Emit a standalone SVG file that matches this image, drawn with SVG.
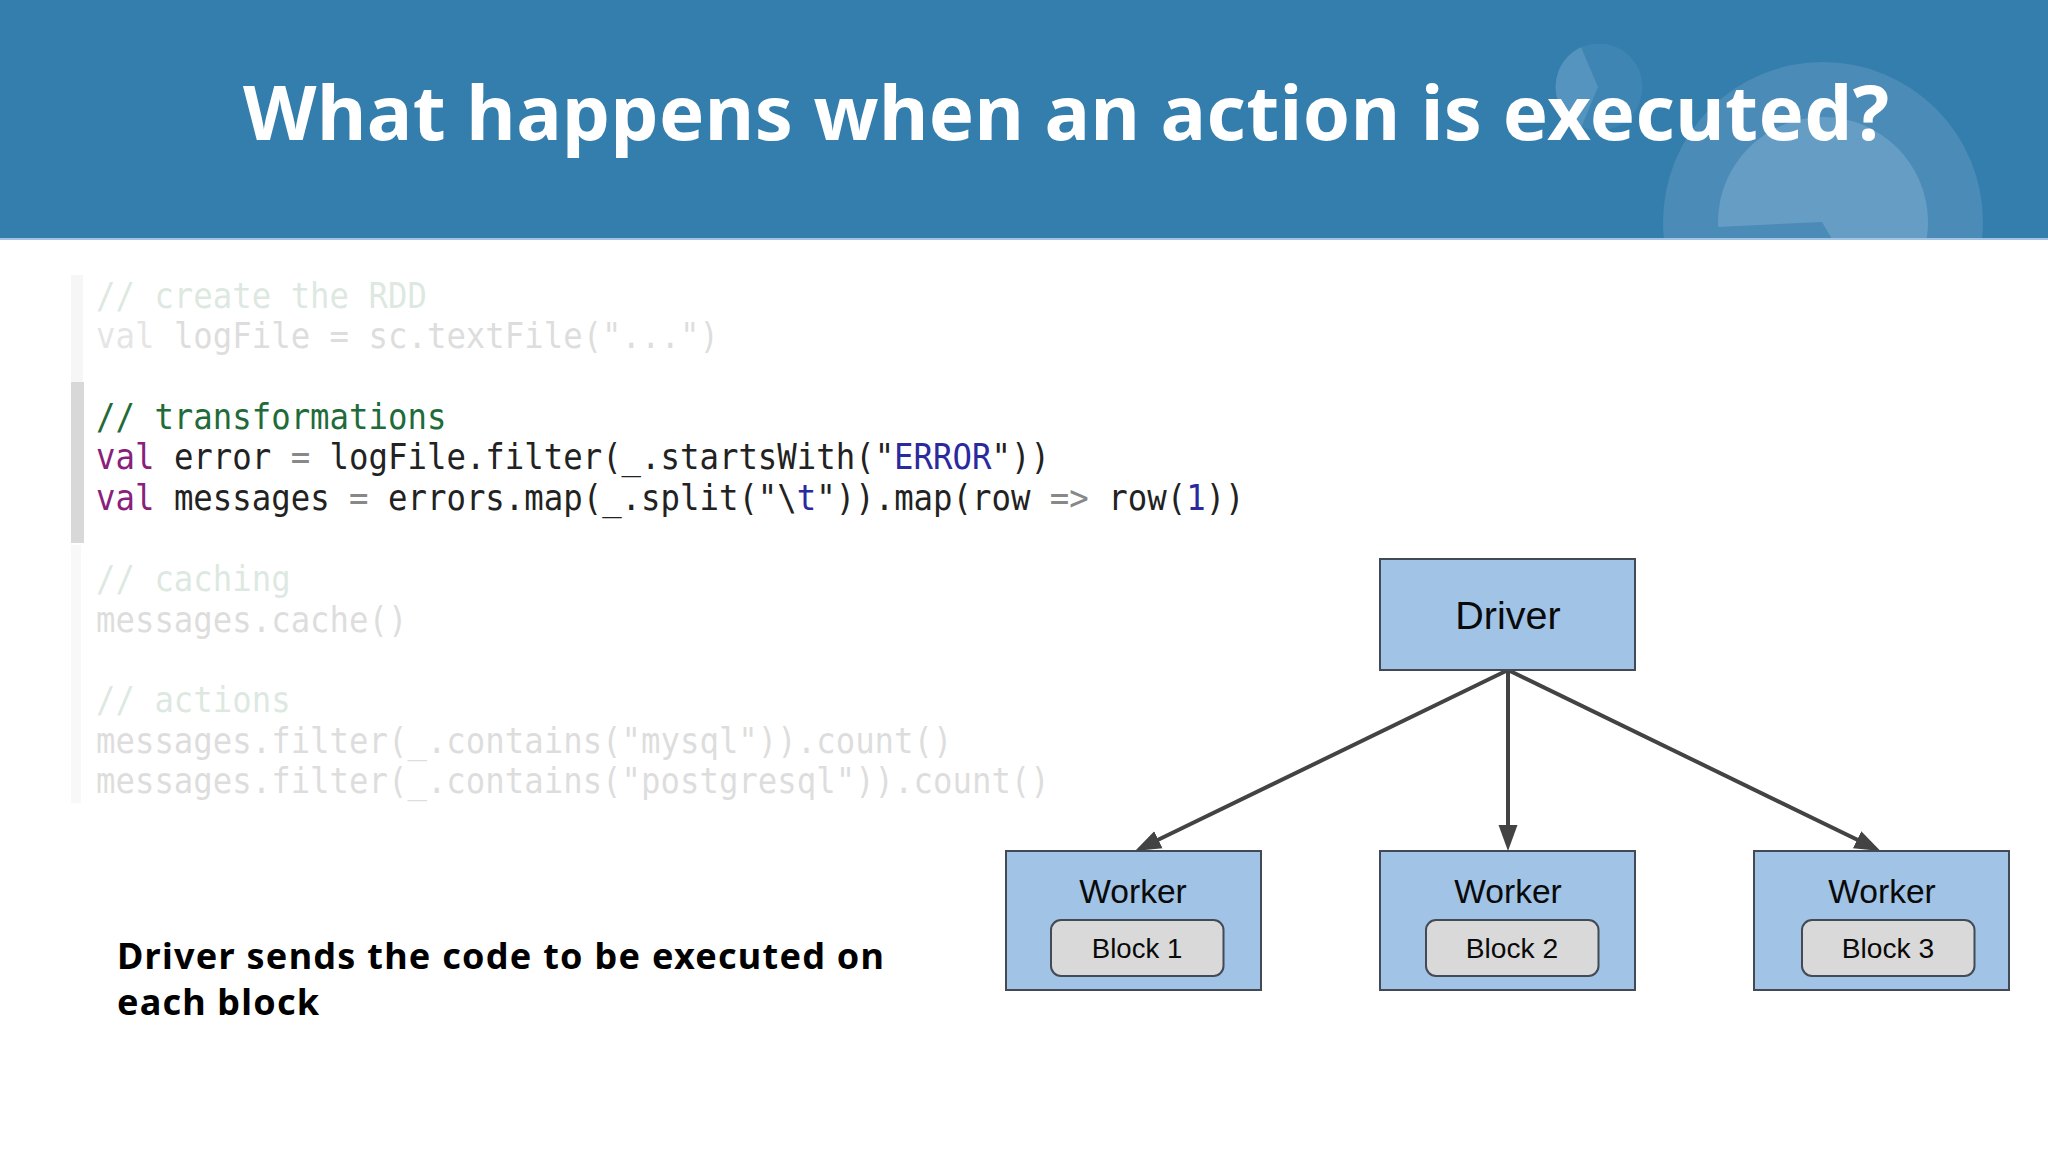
<svg xmlns="http://www.w3.org/2000/svg" width="2048" height="1152" viewBox="0 0 2048 1152">
<style>
.title{font-family:"Noto Sans","Open Sans",sans-serif;font-weight:700;font-size:76px;fill:#fff}
.code{font-family:"DejaVu Sans Mono","Liberation Mono",monospace;font-size:35px;fill:#222}
.faint{opacity:.15}
.faint .kw{fill:#555}
.cm{fill:#1f6b3a}.kw{fill:#8a1f7c}.str{fill:#2a2a9e}.op{fill:#888}
.box{fill:#a0c3e6;stroke:#434a55;stroke-width:2}
.blk{fill:#d9d9d9;stroke:#434a55;stroke-width:2}
.lbl{font-family:"Liberation Sans",Arial,sans-serif;fill:#0a0a0a;text-anchor:middle}
.note{font-family:"Noto Sans","Open Sans",sans-serif;font-weight:700;font-size:36px;fill:#000}
.edge{stroke:#434343;stroke-width:4;fill:none;marker-end:url(#arrow)}
</style>
<defs>
<marker id="arrow" markerUnits="userSpaceOnUse" markerWidth="28" markerHeight="22" refX="14" refY="10" orient="auto">
<path d="M0,0.500 L26,10 L0,19.500z" fill="#434343"/>
</marker>
<clipPath id="hc"><rect width="2048" height="238"/></clipPath>
<clipPath id="sc"><circle cx="1599" cy="87" r="43.500"/></clipPath>
</defs>
<rect width="2048" height="1152" fill="#fff"/>
<g id="header">
<rect width="2048" height="239" fill="#337eac"/>
<rect y="238" width="2048" height="2" fill="#a0c3e6"/>
<g clip-path="url(#hc)">
<circle cx="1599" cy="87" r="43.500" fill="#3f85b3"/>
<path d="M1550,40 L1578,40 L1598,87 L1578,135 L1550,135z" fill="#5494be" clip-path="url(#sc)"/>
<circle cx="1823" cy="222" r="160" fill="#4a8bb8"/>
<circle cx="1823" cy="222" r="105" fill="#669dc4"/>
<path d="M1718,227 L1822,222 L1832,239 L1718,239z" fill="#4a8bb8"/>
</g>
<text class="title" x="243" y="140" textLength="1646" lengthAdjust="spacing">What happens when an action is executed?</text>
</g>
<g id="code-bars">
<rect x="71" y="275" width="12" height="107" fill="#f6f6f6"/>
<rect x="71" y="382" width="13" height="161" fill="#d8d8d8"/>
<rect x="71" y="545" width="10" height="258" fill="#f8f8f8"/>
</g>
<g id="code" transform="translate(96 0) scale(.924 1)">
<g class="faint">
<text class="code" y="308"><tspan class="cm">// create the RDD</tspan></text>
<text class="code" y="348"><tspan class="kw">val</tspan> logFile = sc.textFile("...")</text>
</g>
<text class="code" y="429"><tspan class="cm">// transformations</tspan></text>
<text class="code" y="469"><tspan class="kw">val</tspan> error <tspan class="op">=</tspan> logFile.filter(_.startsWith("<tspan class="str">ERROR</tspan>"))</text>
<text class="code" y="510"><tspan class="kw">val</tspan> messages <tspan class="op">=</tspan> errors.map(_.split("\<tspan class="str">t</tspan>")).map(row <tspan class="op">=&gt;</tspan> row(<tspan class="str">1</tspan>))</text>
<g class="faint">
<text class="code" y="591"><tspan class="cm">// caching</tspan></text>
<text class="code" y="632">messages.cache()</text>
<text class="code" y="712"><tspan class="cm">// actions</tspan></text>
<text class="code" y="753">messages.filter(_.contains("mysql")).count()</text>
<text class="code" y="793">messages.filter(_.contains("postgresql")).count()</text>
</g>
</g>
<g id="connectors">
<line class="edge" x1="1508" y1="670" x2="1145.8" y2="845.800"/>
<line class="edge" x1="1508" y1="670" x2="1508" y2="839"/>
<line class="edge" x1="1508" y1="670" x2="1869.7" y2="845.800"/>
</g>
<g id="driver"><rect class="box" x="1380" y="559" width="255" height="111"/><text class="lbl" x="1508" y="629" font-size="39.500">Driver</text></g>
<g id="worker1"><rect class="box" x="1006" y="851" width="255" height="139"/><text class="lbl" x="1133" y="903" font-size="33.600">Worker</text>
<g id="block1"><rect class="blk" x="1051" y="920" width="172.500" height="56" rx="10"/><text class="lbl" x="1137" y="958" font-size="27.600">Block 1</text></g></g>
<g id="worker2"><rect class="box" x="1380" y="851" width="255" height="139"/><text class="lbl" x="1508" y="903" font-size="33.600">Worker</text>
<g id="block2"><rect class="blk" x="1426" y="920" width="172.500" height="56" rx="10"/><text class="lbl" x="1512" y="958" font-size="28.200">Block 2</text></g></g>
<g id="worker3"><rect class="box" x="1754" y="851" width="255" height="139"/><text class="lbl" x="1882" y="903" font-size="33.600">Worker</text>
<g id="block3"><rect class="blk" x="1802" y="920" width="172.500" height="56" rx="10"/><text class="lbl" x="1888" y="958" font-size="28.200">Block 3</text></g></g>
<g id="note">
<text class="note" x="117" y="969" textLength="767" lengthAdjust="spacing">Driver sends the code to be executed on</text>
<text class="note" x="117" y="1015" textLength="202" lengthAdjust="spacing">each block</text>
</g>
</svg>
